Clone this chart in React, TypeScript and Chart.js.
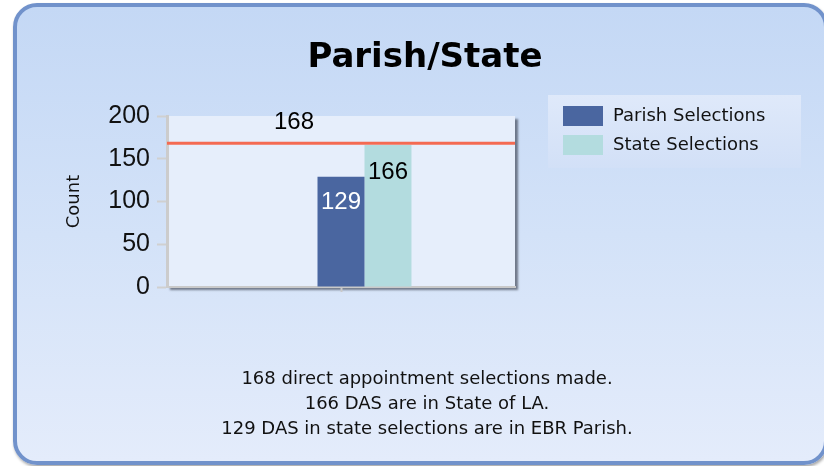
import React, { useEffect, useRef } from "react";
import { Chart, registerables } from "chart.js";

Chart.register(...registerables);

const titleText = "Parish/State";
const categories = ["Selections"];
const seriesNames = ["Total Selections", "Parish Selections", "State Selections"];
const totalValues = [168];
const parishValues = [129];
const stateValues = [166];
const yTickValues = [0, 50, 100, 150, 200];
const yAxisTitle = "Count";
const footerLines = [
  "168 direct appointment selections made.",
  "166 DAS are in State of LA.",
  "129 DAS in state selections are in EBR Parish.",
];

const seriesColors = ["rgba(0,0,0,0)", "#4a66a0", "#b3dcdf"];
const labelStyles = [
  { color: "#000000", offset: -21 },
  { color: "#ffffff", offset: 26 },
  { color: "#000000", offset: 27 },
];
const TEXT_FONT = "'DejaVu Sans', Verdana, sans-serif";
const NUM_FONT = "'Liberation Sans', Arial, sans-serif";

const backdropPlugin = {
  id: "backdrop",
  beforeDraw(chart: any) {
    const { ctx, chartArea: a } = chart;
    ctx.save();
    ctx.shadowColor = "rgba(45,50,65,0.6)";
    ctx.shadowOffsetX = 3;
    ctx.shadowOffsetY = 3;
    ctx.shadowBlur = 2;
    ctx.fillStyle = "#e6eefb";
    ctx.fillRect(a.left, a.top, a.right - a.left, a.bottom - a.top);
    ctx.restore();
  },
};

const totalLinePlugin = {
  id: "totalLine",
  afterDatasetsDraw(chart: any) {
    const { ctx, chartArea: a, scales } = chart;
    const y = scales.y.getPixelForValue(totalValues[0]);
    ctx.save();
    ctx.strokeStyle = "#f46a52";
    ctx.lineWidth = 3;
    ctx.beginPath();
    ctx.moveTo(a.left, y);
    ctx.lineTo(a.right, y);
    ctx.stroke();
    ctx.restore();
  },
};

const valueLabelPlugin = {
  id: "valueLabels",
  afterDatasetsDraw(chart: any) {
    const { ctx } = chart;
    ctx.save();
    ctx.font = `24px ${NUM_FONT}`;
    ctx.textAlign = "center";
    ctx.textBaseline = "middle";
    chart.data.datasets.forEach((ds: any, di: number) => {
      const meta = chart.getDatasetMeta(di);
      meta.data.forEach((el: any, i: number) => {
        const st = labelStyles[di];
        ctx.fillStyle = st.color;
        ctx.fillText(String(ds.data[i]), el.x, el.y + st.offset);
      });
    });
    ctx.restore();
  },
};

const decorPlugin = {
  id: "decor",
  afterDraw(chart: any) {
    const { ctx } = chart;
    ctx.save();
    // title
    ctx.fillStyle = "#000";
    ctx.font = `bold 34px ${TEXT_FONT}`;
    ctx.textAlign = "center";
    ctx.textBaseline = "alphabetic";
    ctx.fillText(titleText, 425, 67);

    // legend box
    const lx = 548, ly = 95, lw = 253, lh = 73;
    const g = ctx.createLinearGradient(0, ly, 0, ly + lh);
    g.addColorStop(0, "#dfe9fa");
    g.addColorStop(1, "#d2e0f7");
    ctx.fillStyle = g;
    ctx.fillRect(lx, ly, lw, lh);
    ctx.font = `18px ${TEXT_FONT}`;
    ctx.textAlign = "left";
    ctx.textBaseline = "middle";
    let row = 0;
    chart.data.datasets.forEach((ds: any, di: number) => {
      if (di === 0) return;
      const cy = 116 + row * 29;
      ctx.fillStyle = seriesColors[di];
      ctx.fillRect(563, cy - 10, 40, 20);
      ctx.fillStyle = "#111";
      ctx.fillText(ds.label, 613, cy);
      row++;
    });

    // footer
    ctx.font = `18px ${TEXT_FONT}`;
    ctx.textAlign = "center";
    ctx.textBaseline = "alphabetic";
    ctx.fillStyle = "#111";
    footerLines.forEach((t, i) => ctx.fillText(t, 427, 384 + i * 25));
    ctx.restore();
  },
};

export default function App() {
  const ref = useRef<HTMLCanvasElement | null>(null);

  useEffect(() => {
    if (!ref.current) return;
    const chart = new Chart(ref.current, {
      type: "bar",
      data: {
        labels: categories,
        datasets: [
          { label: seriesNames[0], data: totalValues, backgroundColor: seriesColors[0] },
          { label: seriesNames[1], data: parishValues, backgroundColor: seriesColors[1] },
          { label: seriesNames[2], data: stateValues, backgroundColor: seriesColors[2] },
        ],
      },
      options: {
        responsive: false,
        animation: false,
        maintainAspectRatio: false,
        datasets: { bar: { categoryPercentage: 0.405, barPercentage: 1 } },
        layout: { padding: { left: 60, top: 116, right: 309, bottom: 179 } },
        plugins: {
          legend: { display: false },
          title: { display: false },
          tooltip: { enabled: false },
        },
        scales: {
          x: {
            ticks: { display: false },
            grid: {
              drawOnChartArea: false,
              offset: false,
              tickLength: 5,
              tickWidth: 2,
              tickColor: "#c9c9c9",
            },
            border: { color: "#c9c9c9", width: 2 },
            afterFit: (s: any) => {
              s.height = 0;
            },
          },
          y: {
            min: yTickValues[0],
            max: yTickValues[yTickValues.length - 1],
            afterBuildTicks: (s: any) => {
              s.ticks = yTickValues.map((v) => ({ value: v }));
            },
            ticks: {
              padding: 7,
              color: "#111",
              font: { family: NUM_FONT, size: 25 },
            },
            grid: {
              drawOnChartArea: false,
              tickLength: 10,
              tickWidth: 2,
              tickColor: "#d0d0d0",
            },
            border: { color: "#cccccc", width: 3 },
            title: {
              display: true,
              text: yAxisTitle,
              color: "#111",
              font: { family: TEXT_FONT, size: 18 },
              padding: { top: 4, bottom: 0 },
            },
            afterFit: (s: any) => {
              s.width = 107;
            },
          },
        },
      },
      plugins: [backdropPlugin, totalLinePlugin, valueLabelPlugin, decorPlugin],
    });
    return () => chart.destroy();
  }, []);

  return (
    <div
      style={{
        position: "fixed",
        left: 0,
        top: 0,
        width: 824,
        height: 466,
        overflow: "hidden",
        background: "#ffffff",
      }}
    >
      <div
        style={{
          position: "absolute",
          left: 13,
          top: 3,
          width: 815,
          height: 462,
          boxSizing: "border-box",
          border: "4px solid #7192cb",
          borderRadius: 24,
          background: "linear-gradient(to bottom, #c4d8f5 0%, #d3e2f8 50%, #e4ecfb 100%)",
          boxShadow: "1px 2px 3px rgba(0,0,0,0.35)",
        }}
      />
      <canvas
        ref={ref}
        width={824}
        height={466}
        style={{ position: "absolute", left: 0, top: 0, width: 824, height: 466 }}
      />
    </div>
  );
}
